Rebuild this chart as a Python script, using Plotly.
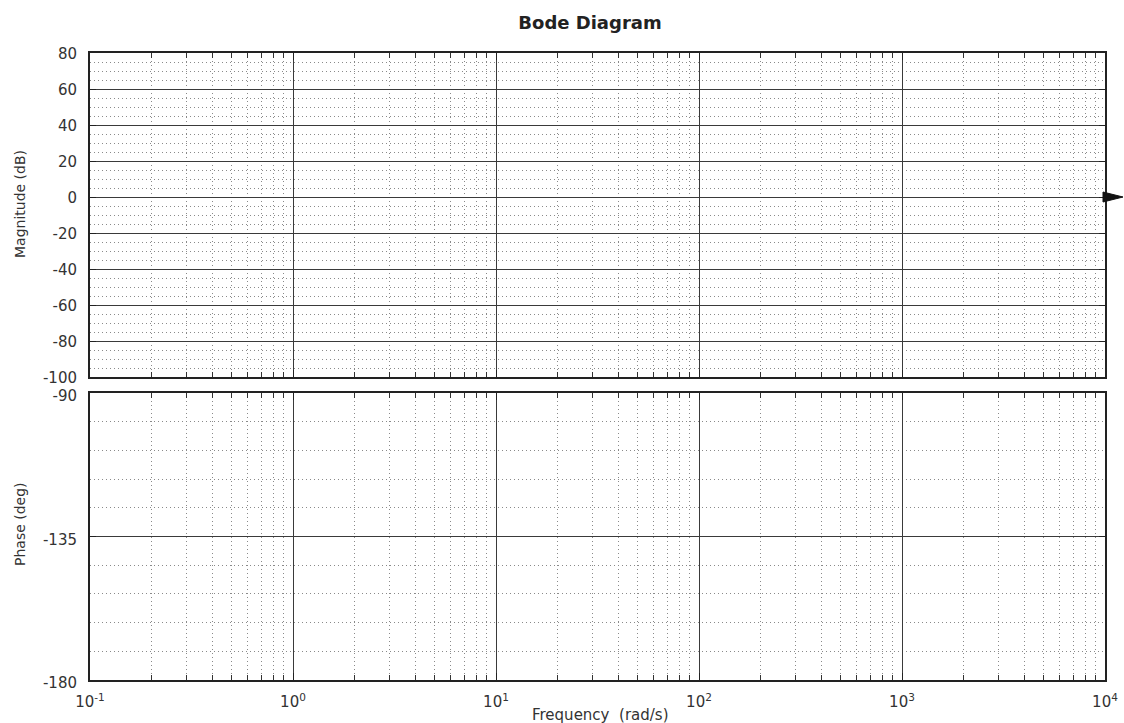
import plotly.graph_objects as go
from plotly.subplots import make_subplots

# ---- data (axis definitions) ----
freq_decades = [0.1, 1, 10, 100, 1000, 10000]
freq_labels = ["10<sup>-1</sup>", "10<sup>0</sup>", "10<sup>1</sup>",
               "10<sup>2</sup>", "10<sup>3</sup>", "10<sup>4</sup>"]
freq_minor = [k * d for d in [0.1, 1, 10, 100, 1000] for k in range(2, 10)]
mag_ticks = [-100, -80, -60, -40, -20, 0, 20, 40, 60, 80]
mag_minor = [v for v in range(-100, 81, 5) if v % 20 != 0]
phase_ticks = [-180, -135, -90]
phase_minor = [v for v in range(-180, -89, 9) if v not in (-180, -135, -90)]
mag_range = [-100, 80]
phase_range = [-180, -90]

fig = make_subplots(rows=2, cols=1, shared_xaxes=False, vertical_spacing=0.02)

# invisible anchor traces so both axes exist
fig.add_trace(go.Scatter(x=[freq_decades[0], freq_decades[-1]], y=[None, None],
                         mode="lines", showlegend=False, hoverinfo="skip"), row=1, col=1)
fig.add_trace(go.Scatter(x=[freq_decades[0], freq_decades[-1]], y=[None, None],
                         mode="lines", showlegend=False, hoverinfo="skip"), row=2, col=1)

H, W = 723, 1124
PT, PB, PL, PR = 53, 680, 90, 1105   # plot-area edges in pixels
top, bot, left, right = PT, H - PB, PL, W - PR
ph = PB - PT
pw = PR - PL
mag_dom = [(PB - 377) / ph, 1.0]
ph_dom = [0.0, (PB - 393) / ph]

FAM = "DejaVu Sans, Liberation Sans, Arial, sans-serif"
font = dict(family=FAM, size=15, color="#333333")
MAJ = "#3a3a3a"
MIN = "#8a8a8a"
DOT = "1px,3px"

common_x = dict(
    type="log", range=[-1, 4], tickmode="array", tickvals=freq_decades,
    showline=True, linecolor="#222", linewidth=2, mirror="ticks",
    showgrid=True, gridcolor=MAJ, gridwidth=1.3,
    ticks="inside", ticklen=7, tickcolor="#222",
    minor=dict(tickmode="array", tickvals=freq_minor, showgrid=True,
               gridcolor=MIN, griddash=DOT, gridwidth=1,
               ticks="inside", ticklen=5, tickcolor="#333"),
    zeroline=False, tickfont=font, automargin=False, ticklabeloverflow="allow",
)

fig.update_xaxes(**common_x, showticklabels=False, row=1, col=1)
fig.update_xaxes(**common_x, ticktext=freq_labels, showticklabels=True,
                 ticklabelstandoff=7, row=2, col=1)

common_y = dict(
    tickmode="array",
    showline=True, linecolor="#222", linewidth=2, mirror="ticks",
    showgrid=True, gridcolor=MAJ, gridwidth=1.3, zeroline=False,
    ticks="inside", ticklen=6, tickcolor="#222",
    tickfont=font, ticklabelstandoff=8, automargin=False, ticklabeloverflow="allow",
)

fig.update_yaxes(
    **common_y, range=mag_range, tickvals=mag_ticks,
    ticktext=[str(v) for v in mag_ticks], domain=mag_dom,
    minor=dict(tickmode="array", tickvals=mag_minor, showgrid=True,
               gridcolor=MIN, griddash=DOT, gridwidth=1, ticks=""),
    ticklabelshift=1,
    row=1, col=1)

fig.update_yaxes(
    **common_y, range=phase_range, tickvals=phase_ticks,
    ticktext=[str(v) for v in phase_ticks], domain=ph_dom,
    minor=dict(tickmode="array", tickvals=phase_minor, showgrid=True,
               gridcolor=MIN, griddash=DOT, gridwidth=1, ticks=""),
    ticklabelshift=3,
    row=2, col=1)

fig.update_layout(
    width=W, height=H,
    margin=dict(t=top, b=bot, l=left, r=right, autoexpand=False),
    paper_bgcolor="white", plot_bgcolor="white",
    showlegend=False,
    title=dict(text="<b>Bode Diagram</b>", x=590 / W, xanchor="center",
               y=1 - 23 / H, yanchor="middle",
               font=dict(family=FAM, size=18, color="#222")),
)

# axis titles
fig.add_annotation(text="Frequency  (rad/s)", xref="paper", yref="paper",
                   x=(600 - PL) / pw, y=-(715 - PB) / ph, xanchor="center", yanchor="middle",
                   showarrow=False, font=dict(family=FAM, size=15, color="#333"))
fig.add_annotation(text="Magnitude (dB)", xref="paper", yref="paper",
                   x=(20 - PL) / pw, y=(PB - 204) / ph, xanchor="center", yanchor="middle",
                   textangle=-90, showarrow=False, font=dict(family=FAM, size=14, color="#333"))
fig.add_annotation(text="Phase (deg)", xref="paper", yref="paper",
                   x=(20 - PL) / pw, y=(PB - 524) / ph, xanchor="center", yanchor="middle",
                   textangle=-90, showarrow=False, font=dict(family=FAM, size=14, color="#333"))

# arrow on the 0 dB line extending past the right edge
tip = (1123 - PL) / pw
fig.add_shape(type="line", xref="paper", yref="y", x0=1.0, x1=tip - 0.008, y0=0, y1=0,
              line=dict(color="#111", width=2))
fig.add_shape(type="path", xref="paper", yref="y", xsizemode="pixel", ysizemode="pixel",
              xanchor=tip, yanchor=0, path="M -20,-5 L 0,0 L -20,5 Z",
              fillcolor="#111", line=dict(color="#111", width=1))

fig.write_html("out.html", config={"displayModeBar": False},
               post_script="document.body.style.margin='0px';")
